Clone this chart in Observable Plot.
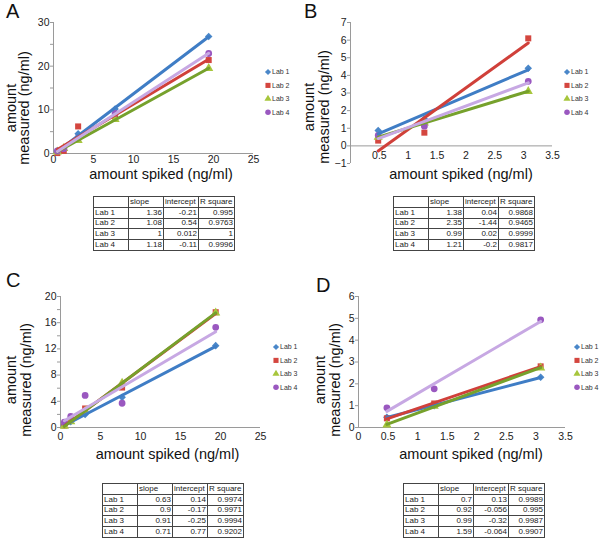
<!DOCTYPE html>
<html><head><meta charset="utf-8">
<script src="https://cdn.jsdelivr.net/npm/d3@7"></script>
<script src="https://cdn.jsdelivr.net/npm/@observablehq/plot@0.6"></script>
<style>
body{margin:0;background:#fff;}
#root{position:relative;width:600px;height:539px;overflow:hidden;font-family:"Liberation Sans",Arial,Helvetica,sans-serif;background:#fff;}
.plot{position:absolute;}
table.stats{position:absolute;border-collapse:collapse;font-size:8px;color:#222;table-layout:fixed;border:1.5px solid #333;}
table.stats td{border:1px solid #444;padding:0 1px;line-height:8px;overflow:hidden;white-space:nowrap;}
table.stats tr{height:10.8px;}
table.stats td.num{text-align:right;}
</style></head><body><div id="root"></div>
<script>
// ---------- data ----------
const labs = ["Lab 1", "Lab 2", "Lab 3", "Lab 4"];
const panelLetters = ["A", "B", "C", "D"];
const spikedAC = [0.48, 1.28, 3.08, 7.7, 19.4];
const spikedBD = [0.48, 1.28, 3.08];

const measuredA = [
  [0.6, 1.2, 4.5, 10.2, 26.8],
  [0.1, 0.6, 6.2, 8.6, 21.4],
  [0.4, 1.2, 3.0, 7.8, 19.5],
  [0.6, 1.1, 3.6, 9.2, 22.9]
];
const measuredB = [
  [0.87, 1.53, 4.4],
  [0.3, 0.75, 6.1],
  [0.5, 1.3, 3.1],
  [0.6, 1.12, 3.66]
];
const measuredC = [
  [0.4, 0.9, 2.0, 4.6, 12.5],
  [0.3, 1.0, 2.9, 6.1, 17.6],
  [0.2, 0.9, 2.5, 6.8, 17.5],
  [0.8, 1.7, 4.9, 3.7, 15.3]
];
const measuredD = [
  [0.47, 1.0, 2.3],
  [0.42, 1.1, 2.8],
  [0.12, 0.98, 2.73],
  [0.9, 1.77, 4.93]
];

const statHeaders = ["", "slope", "intercept", "R square"];
const statsA = [["1.36","-0.21","0.995"],["1.08","0.54","0.9763"],["1","0.012","1"],["1.18","-0.11","0.9996"]];
const statsB = [["1.38","0.04","0.9868"],["2.35","-1.44","0.9465"],["0.99","0.02","0.9999"],["1.21","-0.2","0.9817"]];
const statsC = [["0.63","0.14","0.9974"],["0.9","-0.17","0.9971"],["0.91","-0.25","0.9994"],["0.71","0.77","0.9202"]];
const statsD = [["0.7","0.13","0.9989"],["0.92","-0.056","0.995"],["0.99","-0.32","0.9987"],["1.59","-0.064","0.9907"]];

const xTicksA = [0, 5, 10, 15, 20, 25];
const yTicksA = [0, 10, 20, 30];
const yMinorA = [5, 15, 25];
const xTicksB = [0.5, 1, 1.5, 2, 2.5, 3, 3.5];
const yTicksB = [-1, 0, 1, 2, 3, 4, 5, 6, 7];
const xTicksC = [0, 5, 10, 15, 20, 25];
const yTicksC = [0, 4, 8, 12, 16, 20];
const yMinorC = [2, 6, 10, 14, 18];
const xTicksD = [0, 0.5, 1, 1.5, 2, 2.5, 3, 3.5];
const yTicksD = [0, 1, 2, 3, 4, 5, 6];

const xTitle = "amount spiked (ng/ml)";
const yTitle = ["amount", "measured (ng/ml)"];

// ---------- styles ----------
const FONT = '"Liberation Sans", Arial, Helvetica, sans-serif';
const markerColors = ["#4a87c9", "#d4463f", "#a7c63c", "#9a58c0"];
const lineColors = ["#3f7dc5", "#d0403a", "#76a12c", "#c7a8e3"];
const symbols = ["diamond2", "square", "triangle", "circle"];
const axisColor = "#9a9a9a";
const textColor = "#222";

const root = document.getElementById("root");

function panel(cfg) {
  const rows = labs.flatMap((lab, i) => cfg.spiked.map((x, j) => ({lab, x, y: cfg.measured[i][j]})));
  const marks = [
    Plot.ruleY([0], {stroke: axisColor}),
    Plot.ruleX([0], {stroke: axisColor}),
    Plot.axisY(cfg.yTicks, {tickSize: 3, tickPadding: 1, stroke: axisColor, fill: textColor, label: null})
  ];
  if (cfg.yMinor) marks.push(Plot.axisY(cfg.yMinor, {tickSize: 3, tickFormat: () => "", stroke: axisColor, label: null}));
  marks.push(Plot.text(cfg.xTicks, {x: d => d, y: 0, dy: cfg.xDy, fill: textColor, text: d => String(d)}));
  marks.push(Plot.dot(rows, {x: "x", y: "y", symbol: "lab", fill: "lab", r: 3.4}));
  labs.forEach((lab, i) => marks.push(
    Plot.linearRegressionY(rows.filter(d => d.lab === lab), {x: "x", y: "y", stroke: lineColors[i], strokeWidth: 3, ci: 0})
  ));
  const svg = Plot.plot({
    width: cfg.width, height: cfg.height,
    marginLeft: cfg.mL, marginRight: cfg.mR, marginTop: cfg.mT, marginBottom: cfg.mB,
    x: {domain: cfg.xDomain, axis: null},
    y: {domain: cfg.yDomain},
    symbol: {domain: labs, range: symbols},
    color: {domain: labs, range: markerColors},
    style: {fontFamily: FONT, fontSize: "10.5px", background: "transparent", overflow: "visible"},
    marks
  });
  const div = document.createElement("div");
  div.className = "plot";
  div.style.left = cfg.left + "px";
  div.style.top = cfg.top + "px";
  div.appendChild(svg);
  root.appendChild(div);
}

panel({left: 0, top: 0, width: 300, height: 190, mL: 53, mR: 47, mT: 22, mB: 37,
  xDomain: [0, 25], yDomain: [0, 30], xTicks: xTicksA, yTicks: yTicksA, yMinor: yMinorA,
  spiked: spikedAC, measured: measuredA, xDy: 6});
panel({left: 300, top: 0, width: 300, height: 190, mL: 50, mR: 48, mT: 22, mB: 27,
  xDomain: [0, 3.5], yDomain: [-1, 7], xTicks: xTicksB, yTicks: yTicksB,
  spiked: spikedBD, measured: measuredB, xDy: 10});
panel({left: 0, top: 260, width: 300, height: 200, mL: 60, mR: 40, mT: 36, mB: 33,
  xDomain: [0, 25], yDomain: [0, 20], xTicks: xTicksC, yTicks: yTicksC, yMinor: yMinorC,
  spiked: spikedAC, measured: measuredC, xDy: 9});
panel({left: 300, top: 260, width: 300, height: 200, mL: 58, mR: 35, mT: 36, mB: 33,
  xDomain: [0, 3.5], yDomain: [0, 6], xTicks: xTicksD, yTicks: yTicksD,
  spiked: spikedBD, measured: measuredD, xDy: 9});

// ---------- text overlay: letters, axis titles, legends ----------
const ov = d3.select(root).append("svg")
  .attr("width", 600).attr("height", 539)
  .style("position", "absolute").style("left", 0).style("top", 0)
  .style("font-family", FONT).style("pointer-events", "none");

const layout = [
  {letter: [6, 18], xt: [161, 179], yt: [15.5, 29, 108], leg: [268, 72]},
  {letter: [304, 18], xt: [461, 179], yt: [313.5, 328.5, 107], leg: [567, 72]},
  {letter: [6, 287], xt: [167.5, 459], yt: [15.5, 31, 380], leg: [276, 347]},
  {letter: [316, 292], xt: [471, 459], yt: [325, 339.5, 380], leg: [577, 347]}
];
const legSym = [d3.symbolDiamond2, d3.symbolSquare, d3.symbolTriangle, d3.symbolCircle];
const legSize = [24, 26, 22, 24];

layout.forEach((L, p) => {
  ov.append("text").attr("x", L.letter[0]).attr("y", L.letter[1])
    .attr("font-size", 20).attr("fill", "#111").text(panelLetters[p]);
  ov.append("text").attr("x", L.xt[0]).attr("y", L.xt[1]).attr("text-anchor", "middle")
    .attr("font-size", 14.5).attr("fill", "#111").text(xTitle);
  yTitle.forEach((t, k) => {
    ov.append("text").attr("transform", `translate(${L.yt[k]},${L.yt[2]}) rotate(-90)`)
      .attr("text-anchor", "middle").attr("font-size", 14.5).attr("fill", "#111").text(t);
  });
  labs.forEach((lab, i) => {
    const y = L.leg[1] + i * 13.4;
    ov.append("path").attr("transform", `translate(${L.leg[0]},${y})`)
      .attr("d", d3.symbol(legSym[i], legSize[i])()).attr("fill", markerColors[i]);
    ov.append("text").attr("x", L.leg[0] + 4).attr("y", y).attr("dy", "0.35em")
      .attr("font-size", 7).attr("fill", "#333").text(lab);
  });
});

// ---------- tables ----------
const tables = [[statsA, 93, 196], [statsB, 393, 196], [statsC, 102, 483], [statsD, 403, 483]];
const colW = [35, 35, 35, 36];
tables.forEach(([stats, left, top]) => {
  const t = document.createElement("table");
  t.className = "stats";
  t.style.left = left + "px";
  t.style.top = top + "px";
  const cg = document.createElement("colgroup");
  colW.forEach(w => { const c = document.createElement("col"); c.style.width = w + "px"; cg.appendChild(c); });
  t.appendChild(cg);
  const hr = t.insertRow();
  statHeaders.forEach(h => { const c = hr.insertCell(); c.textContent = h; });
  stats.forEach((r, i) => {
    const tr = t.insertRow();
    const c0 = tr.insertCell(); c0.textContent = labs[i];
    r.forEach(v => { const c = tr.insertCell(); c.className = "num"; c.textContent = v; });
  });
  root.appendChild(t);
});
</script></body></html>
